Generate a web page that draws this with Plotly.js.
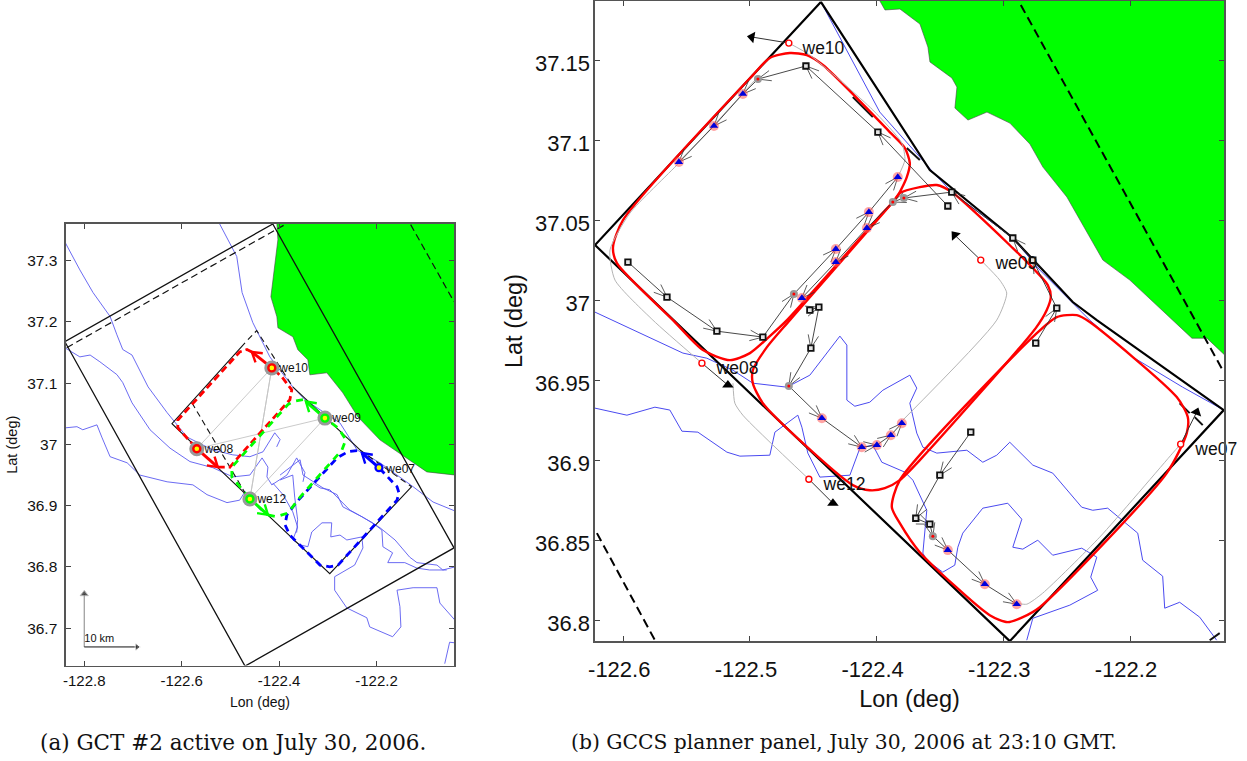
<!DOCTYPE html>
<html><head><meta charset="utf-8">
<script src="https://cdn.plot.ly/plotly-3.0.1.min.js"></script>
<style>html,body{margin:0;padding:0;background:#fff}</style></head>
<body><div id="chart" style="width:1247px;height:761px"></div>
<script>
// ===== Panel (a) values, lon / lat =====
const aLandLon=[-122.4046,-122.4025,-122.4169,-122.4046,-122.4025,-122.3717,-122.3615,-122.341,-122.3369,-122.302,-122.2692,-122.2384,-122.1932,-122.1255,-122.0968,-122.0414,-122.03,-122.03,-122.4046];
const aLandLat=[37.3605,37.3343,37.2412,37.2085,37.1905,37.1758,37.1546,37.1382,37.1137,37.117,37.0843,37.0451,37.0075,36.9716,36.9552,36.9503,36.9503,37.37,37.37];
const aCoast1Lon=[-122.522,-122.487,-122.476,-122.454,-122.419,-122.372,-122.347,-122.275,-122.24,-122.193,-122.125,-122.084,-122.041];
const aCoast1Lat=[37.36,37.307,37.248,37.199,37.143,37.094,37.073,37.035,36.991,36.97,36.931,36.906,36.892];
const aCoast2Lon=[-122.84,-122.809,-122.782,-122.747,-122.733,-122.721,-122.702,-122.669,-122.63,-122.589,-122.536,-122.495,-122.46,-122.433,-122.409,-122.398,-122.405];
const aCoast2Lat=[37.331,37.285,37.248,37.209,37.179,37.155,37.146,37.094,37.052,37.012,36.991,36.983,36.98,36.988,37.019,37.008,36.996];
const aCoast3Lon=[-122.84,-122.809,-122.788,-122.768,-122.733,-122.721,-122.702,-122.665,-122.624,-122.583,-122.536,-122.495,-122.46,-122.435,-122.423,-122.425,-122.415,-122.384,-122.364,-122.347,-122.351];
const aCoast3Lat=[37.158,37.143,37.146,37.135,37.114,37.101,37.068,37.024,36.994,36.972,36.962,36.947,36.95,36.978,36.963,36.947,36.934,36.95,36.978,36.954,36.939];
const aCoast4Lon=[-122.84,-122.815,-122.803,-122.774,-122.764,-122.747,-122.712,-122.686,-122.63,-122.577,-122.548,-122.507,-122.481,-122.47,-122.439,-122.425];
const aCoast4Lat=[37.027,37.029,37.024,37.032,37.012,36.98,36.97,36.95,36.939,36.934,36.918,36.905,36.909,36.923,36.893,36.888];
const aCoast5Lon=[-122.413,-122.392,-122.372,-122.362,-122.372,-122.357,-122.341,-122.333,-122.312,-122.292,-122.294,-122.275,-122.261,-122.23,-122.228,-122.245,-122.286,-122.286,-122.261,-122.22,-122.214,-122.167,-122.15,-122.152,-122.158,-122.125,-122.076,-122.07,-122.039];
const aCoast5Lat=[36.937,36.918,36.89,36.865,36.844,36.836,36.833,36.857,36.872,36.872,36.849,36.852,36.844,36.849,36.831,36.803,36.784,36.762,36.733,36.717,36.702,36.686,36.702,36.735,36.762,36.766,36.766,36.741,36.713];
const aCoast6Lon=[-122.398,-122.357,-122.351,-122.31,-122.281,-122.269,-122.23,-122.193,-122.162,-122.132,-122.117,-122.076,-122.064,-122.039];
const aCoast6Lat=[36.95,36.975,36.95,36.929,36.918,36.898,36.882,36.864,36.844,36.816,36.807,36.803,36.795,36.8];
const aCoast7Lon=[-122.398,-122.372,-122.368,-122.362,-122.364];
const aCoast7Lat=[36.942,36.95,36.914,36.877,36.856];
const aCoast8Lon=[-122.331,-122.316,-122.296,-122.279,-122.255,-122.208,-122.189,-122.187,-122.167,-122.177,-122.142,-122.117,-122.091,-122.056];
const aCoast8Lat=[36.937,36.929,36.926,36.913,36.893,36.872,36.86,36.833,36.823,36.807,36.807,36.798,36.795,36.795];
const aCoast9Lon=[-122.06,-122.05,-122.039];
const aCoast9Lat=[36.642,36.677,36.676];
const aBoxLon=[-122.84,-122.413,-122.041,-122.47,-122.84];
const aBoxLat=[37.168,37.36,36.831,36.638,37.168];
const aOuterDashLon=[-122.836,-122.388,null,-122.13,-122.041];
const aOuterDashLat=[37.158,37.359,null,37.359,37.233];
const aInnerLon=[-122.47,-122.62,-122.526,-122.296,-122.128,null,-122.372,-122.234];
const aInnerLat=[37.166,37.034,36.962,36.789,36.931,null,37.094,36.991];
const aInnerDashLon=[-122.464,-122.446,-122.372,null,-122.579,-122.47,null,-122.234,-122.128];
const aInnerDashLat=[37.171,37.186,37.094,null,37.068,36.921,null,36.991,36.931];
const aVehNames=["we10","we09","we08","we12","we07"];
const aLabelLon=[-122.3995,-122.2907,-122.5534,-122.4446,-122.1799];
const aLabelLat=[37.123,37.0415,36.991,36.909,36.958];
const aLinksLon=[-122.415,-122.569,-122.306,-122.46,-122.415];
const aLinksLat=[37.125,36.993,37.043,36.911,37.125];
const aRedDashLon=[-122.526,-122.501,-122.476,-122.378,-122.374,-122.394,-122.415,null,-122.456,-122.466,-122.481,-122.608,-122.608,-122.569];
const aRedDashLat=[36.963,36.963,36.986,37.073,37.089,37.11,37.125,null,37.151,37.155,37.151,37.04,37.027,36.993];
const aRedArrowLon=[-122.415,-122.456,null,-122.569,-122.526];
const aRedArrowLat=[37.125,37.151,null,36.993,36.963];
const aGreenDashLon=[-122.423,-122.405,-122.382,-122.357,-122.271,-122.263,-122.279,-122.306,null,-122.351,-122.372,-122.382,-122.497,-122.497,-122.46];
const aGreenDashLat=[36.885,36.882,36.888,36.914,36.991,37.008,37.027,37.043,null,37.073,37.07,37.065,36.963,36.947,36.911];
const aGreenArrowLon=[-122.46,-122.423,null,-122.306,-122.345];
const aGreenArrowLat=[36.911,36.885,null,37.043,37.07];
const aBlueDashLon=[-122.24,-122.259,-122.281,-122.364,-122.384,-122.388,-122.378,-122.316,-122.296,-122.279,-122.158,-122.154,-122.158,-122.195];
const aBlueDashLat=[36.99,36.988,36.978,36.906,36.885,36.869,36.852,36.803,36.8,36.803,36.909,36.921,36.931,36.962];
const aBlueArrowLon=[-122.195,-122.23];
const aBlueArrowLat=[36.962,36.986];
const aScaleUpLon=[-122.8,-122.8], aScaleUpLat=[36.6693,36.7559];
const aScaleRightLon=[-122.8,-122.6919], aScaleRightLat=[36.6693,36.6693];
const aScaleText=["10 km"], aScaleTextLon=[-122.8], aScaleTextLat=[36.682];
const aXTicks=[-122.8,-122.6,-122.4,-122.2], aXLabels=["-122.8","-122.6","-122.4","-122.2"];
const aYTicks=[36.7,36.8,36.9,37,37.1,37.2,37.3], aYLabels=["36.7","36.8","36.9","37","37.1","37.2","37.3"];

// ===== Panel (b) values, lon / lat =====
const bLandLon=[-122.3974,-122.3934,-122.3816,-122.3658,-122.3595,-122.3579,-122.3406,-122.3366,-122.3382,-122.3279,-122.3129,-122.2948,-122.279,-122.2687,-122.2498,-122.2395,-122.2214,-122.2001,-122.1661,-122.1511,-122.1393,-122.1259,-122.12,-122.12,-122.3974];
const bLandLat=[37.1869,37.1813,37.1819,37.1725,37.1581,37.1488,37.1388,37.1331,37.12,37.1125,37.1175,37.1106,37.0975,37.0831,37.0644,37.05,37.025,37.0125,36.9875,36.9762,36.9762,36.9662,36.9662,37.19,37.19];
const bBoxLon=[-122.444,-122.358,-122.2925,-122.2689,-122.2452,-122.2262,-122.126,-122.2949,-122.6223,-122.444];
const bBoxLat=[37.1863,37.0813,37.0388,37.0188,36.9988,36.9875,36.9313,36.7869,37.0344,37.1863];
const bDashLon=[-122.2862,-122.1489,-122.1268,null,-122.6208,-122.575];
const bDashLat=[37.1844,36.9881,36.9562,null,36.8544,36.7875];
const bStubLon=[-122.3762,-122.3659,null,-122.1608,-122.1529,null,-122.1489,-122.1426,null,-122.1371,-122.1292,null,-122.4188,-122.403];
const bStubLat=[37.095,37.0875,null,36.9356,36.9294,null,36.9269,36.9219,null,36.7875,36.7919,null,37.1269,37.1144];
const bCoast1Lon=[-122.444,-122.4235,-122.4077,-122.3975,-122.3659,-122.3556,-122.3407,-122.2925,-122.2712,-122.242,-122.2318,-122.2136,-122.1978,-122.1584,-122.126];
const bCoast1Lat=[37.1863,37.1563,37.1331,37.1175,37.0894,37.08,37.0675,37.0388,37.0188,36.9956,36.9875,36.975,36.9644,36.9456,36.9313];
const bCoast2Lon=[-122.6223,-122.6089,-122.5805,-122.5529,-122.534,-122.5134,-122.4977,-122.4708,-122.4527,-122.429,-122.4235,-122.4235,-122.4172,-122.4054,-122.3951,-122.3738,-122.3683,-122.3738,-122.3683,-122.3635,-122.3525,-122.3288,-122.3162,-122.3052,-122.2949,-122.2767,-122.261,-122.2381,-122.2294,-122.2176,-122.1939,-122.19,-122.1742,-122.1726,-122.1608,-122.145,-122.1316];
const bCoast2Lat=[36.9925,36.9875,36.9769,36.9669,36.9637,36.9562,36.9481,36.9456,36.9531,36.9775,36.9719,36.9375,36.9337,36.9362,36.9437,36.9531,36.945,36.9356,36.9169,36.9081,36.9044,36.9062,36.8987,36.9031,36.9112,36.8969,36.8919,36.8706,36.8687,36.87,36.8544,36.8375,36.8275,36.8075,36.8112,36.8019,36.7875];
const bCoast3Lon=[-122.6223,-122.5971,-122.575,-122.5632,-122.5537,-122.5411,-122.5182,-122.5079,-122.4843,-122.4803,-122.4622,-122.459,-122.4543,-122.4448,-122.4211,-122.4132,-122.403,-122.3959,-122.3777,-122.3714,-122.3604,-122.3635,-122.3604,-122.3478,-122.3383,-122.3359,-122.332,-122.3162,-122.2965,-122.2854,-122.2925,-122.2846,-122.2728,-122.261,-122.2381,-122.2262,-122.231,-122.2255,-122.2475,-122.2767,-122.2815];
const bCoast3Lat=[36.9325,36.9281,36.9331,36.9313,36.9181,36.9175,36.905,36.9025,36.9031,36.9175,36.9281,36.9206,36.9044,36.8894,36.8906,36.9075,36.9094,36.8987,36.8925,36.8875,36.8687,36.8419,36.8375,36.83,36.8344,36.8456,36.8544,36.87,36.8731,36.8631,36.8456,36.8444,36.85,36.8406,36.845,36.8394,36.8269,36.8187,36.8094,36.8012,36.7875];
const bRed1Lon=[-122.4685,-122.4843,-122.4977,-122.6002,-122.6081,-122.605,-122.5608,-122.5371,-122.5158,-122.5,-122.4843,-122.4708,-122.3975,-122.384,-122.3762,-122.3738,-122.3777,-122.3896,-122.4424,-122.4551,-122.4685];
const bRed1Lat=[37.1544,37.1513,37.1406,37.05,37.0331,37.0231,36.9875,36.9688,36.9625,36.9669,36.9775,36.9875,37.0525,37.0644,37.0769,37.0856,37.095,37.105,37.1469,37.1531,37.1544];
const bRed2Lon=[-122.3872,-122.3817,-122.3659,-122.3525,-122.3407,-122.2925,-122.2752,-122.2649,-122.2625,-122.2657,-122.2744,-122.3659,-122.3817,-122.3935,-122.4054,-122.4188,-122.4582,-122.4898,-122.4977,-122.4977,-122.4866,-122.4685,-122.3872];
const bRed2Lat=[37.0613,37.0669,37.0706,37.0719,37.0675,37.0325,37.0188,37.0094,37.0019,36.9938,36.9825,36.9,36.8875,36.8825,36.8812,36.8844,36.9106,36.9356,36.9481,36.9562,36.9706,36.9875,37.0613];
const bRed3Lon=[-122.2578,-122.242,-122.2318,-122.1631,-122.1544,-122.1552,-122.171,-122.2712,-122.2846,-122.2965,-122.3107,-122.3659,-122.3817,-122.388,-122.3817,-122.2752,-122.2578];
const bRed3Lat=[36.9894,36.9906,36.9863,36.9394,36.9269,36.9169,36.8919,36.8081,36.8019,36.7988,36.8031,36.8425,36.8606,36.8706,36.8875,36.9781,36.9894];
const bPath1Lon=[-122.4693,-122.4527,-122.403,-122.3801,-122.3777,-122.3833];
const bPath1Lat=[37.1606,37.1531,37.1188,37.0981,37.0875,37.0769];
const bPath2Lon=[-122.4945,-122.5553,-122.5947,-122.6105,-122.6065,-122.5766,-122.5379];
const bPath2Lat=[37.1388,37.0863,37.0544,37.0313,37.0125,36.9875,36.9606];
const bPath3Lon=[-122.5134,-122.5119,-122.5056,-122.4535];
const bPath3Lat=[36.9481,36.9356,36.9281,36.8881];
const bPath4Lon=[-122.3178,-122.3028,-122.2973,-122.3052,-122.3793];
const bPath4Lat=[37.025,37.0125,37.0044,36.9875,36.925];
const bPath5Lon=[-122.16,-122.1663,-122.2239,-122.2689,-122.2815,-122.2894];
const bPath5Lat=[36.91,36.9044,36.8519,36.8169,36.81,36.8106];
const bSeq1Lon=[-122.3438,-122.399,-122.4558,-122.4937,-122.5056,-122.5284,-122.5561];
const bSeq1Lat=[37.0588,37.105,37.1463,37.1381,37.1288,37.1088,37.0863];
const bSeq2Lon=[-122.5963,-122.5655,-122.5261,-122.4898,-122.4653,-122.4322,-122.4061,-122.3833];
const bSeq2Lat=[37.0238,37.0019,36.9806,36.9769,37.0038,37.0319,37.055,37.0769];
const bSeq3Lon=[-122.2744,-122.2578,-122.2767,-122.2925,-122.3407,-122.3785,-122.3872,-122.4077,-122.4322,-122.459];
const bSeq3Lat=[36.9731,36.995,37.025,37.0388,37.0675,37.0638,37.0613,37.045,37.0238,37.0013];
const bSeq4Lon=[-122.4527,-122.4456,-122.4519,-122.4693,-122.4432,-122.4117,-122.3998,-122.3888,-122.3801];
const bSeq4Lat=[36.9938,36.9956,36.97,36.9463,36.9262,36.9081,36.9094,36.9156,36.9231];
const bSeq5Lon=[-122.3257,-122.3501,-122.3691,-122.358,-122.3556,-122.3438,-122.3146,-122.2894];
const bSeq5Lat=[36.9175,36.8906,36.8637,36.86,36.8525,36.8438,36.8225,36.81];
const bSquareLon=[-122.5963,-122.5655,-122.5261,-122.4898,-122.4558,-122.399,-122.4527,-122.4456,-122.4519,-122.3407,-122.3438,-122.2925,-122.2767,-122.2578,-122.2744,-122.3257,-122.3501,-122.3691,-122.358];
const bSquareLat=[37.0238,37.0019,36.9806,36.9769,37.1463,37.105,36.9938,36.9956,36.97,37.0675,37.0588,37.0388,37.025,36.995,36.9731,36.9175,36.8906,36.8637,36.86];
const bDoneLon=[-122.5056,-122.5284,-122.5561,-122.3833,-122.4061,-122.4077,-122.4322,-122.4322,-122.459,-122.4432,-122.4117,-122.3998,-122.3888,-122.3801,-122.3438,-122.3146,-122.2894];
const bDoneLat=[37.1288,37.1088,37.0863,37.0769,37.055,37.045,37.0319,37.0238,37.0013,36.9262,36.9081,36.9094,36.9156,36.9231,36.8438,36.8225,36.81];
const bNextLon=[-122.4937,-122.4653,-122.3872,-122.3785,-122.4693,-122.3556];
const bNextLat=[37.1381,37.0038,37.0613,37.0638,36.9463,36.8525];
const bVehLon=[-122.4693,-122.5379,-122.4535,-122.3178,-122.16];
const bVehLat=[37.1606,36.9606,36.8881,37.025,36.91];
const bHeadLon=[-122.4985,-122.5174,-122.4345,-122.3383,-122.1474];
const bHeadLat=[37.1644,36.9469,36.8731,37.0406,36.93];
const bHeadAngle=[-80,0,0,-40,20];
const bVehNames=["we10","we08","we12","we09","we07"];
const bLabelLon=[-122.4585,-122.5263,-122.4419,-122.3062,-122.1484];
const bLabelLat=[37.1566,36.9566,36.8841,37.0223,36.906];
const bXTicks=[-122.6,-122.5,-122.4,-122.3,-122.2], bXLabels=["-122.6","-122.5","-122.4","-122.3","-122.2"];
const bYTicks=[36.8,36.85,36.9,36.95,37,37.05,37.1,37.15], bYLabels=["36.8","36.85","36.9","36.95","37","37.05","37.1","37.15"];

const captionA="(a) GCT #2 active on July 30, 2006.";
const captionB="(b) GCCS planner panel, July 30, 2006 at 23:10 GMT.";

// ===== Styles =====
const RED="#ff0000",GREEN="#00ff00",BLUE="#0000ff",COAST="#5a5af0",COASTB="#4a4af0",W=1247,H=761;
const A={xaxis:"x",yaxis:"y"},B={xaxis:"x2",yaxis:"y2"};
const dom={a:{x:[66,454],y:[224,665.5],rx:[-122.8375,-122.041],ry:[36.639,37.36]},b:{x:[595,1224],y:[1,641],rx:[-122.6223,-122.1258],ry:[36.787,37.1869]}};
const scale=d=>({sx:(d.x[1]-d.x[0])/(d.rx[1]-d.rx[0]),sy:(d.y[1]-d.y[0])/(d.ry[1]-d.ry[0])});
const tr=[];
function line(ax,x,y,color,width,dash,extra){tr.push(Object.assign({type:"scatter",mode:"lines",x,y,hoverinfo:"skip",
  line:{color,width,dash:dash||"solid"}},ax,extra||{}));}
function pts(ax,x,y,marker,extra){tr.push(Object.assign({type:"scatter",mode:"markers",x,y,hoverinfo:"skip",marker},ax,extra||{}));}
function labels(ax,x,y,text,size){tr.push(Object.assign({type:"scatter",mode:"text",x,y,text,textposition:"middle right",cliponaxis:false,hoverinfo:"skip",
  textfont:{family:"Liberation Sans, Arial, sans-serif",size,color:"#111"}},ax));}
function land(ax,x,y){line(ax,x,y,"#444",0.6,null,{fill:"toself",fillcolor:GREEN});}
// a polyline with an open V head at every point after the first; heads are derived from the path itself
function arrowed(ax,d,x,y,color,width,barb,deg,lw){
  line(ax,x,y,color,width);
  const {sx,sy}=scale(d),hx=[],hy=[],c=Math.cos(deg*Math.PI/180),s=Math.sin(deg*Math.PI/180);
  for(let i=1;i<x.length;i++){
    if(x[i]===null||x[i-1]===null)continue;
    const dx=(x[i-1]-x[i])*sx,dy=(y[i-1]-y[i])*sy,n=Math.hypot(dx,dy)||1,ux=dx/n,uy=dy/n;
    hx.push(x[i]+(ux*c-uy*s)*barb/sx,x[i],x[i]+(ux*c+uy*s)*barb/sx,null);
    hy.push(y[i]+(ux*s+uy*c)*barb/sy,y[i],y[i]+(-ux*s+uy*c)*barb/sy,null);
  }
  line(ax,hx,hy,color,lw);
}

// panel a
land(A,aLandLon,aLandLat);
[[aCoast1Lon,aCoast1Lat],[aCoast2Lon,aCoast2Lat],[aCoast3Lon,aCoast3Lat],[aCoast4Lon,aCoast4Lat],[aCoast5Lon,aCoast5Lat],[aCoast6Lon,aCoast6Lat],[aCoast7Lon,aCoast7Lat],[aCoast8Lon,aCoast8Lat],[aCoast9Lon,aCoast9Lat]]
 .forEach(c=>line(A,c[0],c[1],COAST,0.9));
line(A,aLinksLon,aLinksLat,"#c4c4c4",0.9);
line(A,[aLinksLon[0],aLinksLon[3]],[aLinksLat[0],aLinksLat[3]],"#c4c4c4",0.9);
line(A,aBoxLon,aBoxLat,"#111",1.3);
line(A,aOuterDashLon,aOuterDashLat,"#111",1.2,"7px,4px");
line(A,aInnerLon,aInnerLat,"#111",1.1);
line(A,aInnerDashLon,aInnerDashLat,"#111",1.1,"6px,4px");
line(A,aBlueDashLon,aBlueDashLat,BLUE,2.8,"7px,5px");
line(A,aRedDashLon,aRedDashLat,RED,2.8,"7px,4px");
line(A,aGreenDashLon,aGreenDashLat,GREEN,2.8,"7px,6px");
arrowed(A,dom.a,aRedArrowLon,aRedArrowLat,RED,3,11,32,2.4);
arrowed(A,dom.a,aGreenArrowLon,aGreenArrowLat,GREEN,3,11,32,2.4);
arrowed(A,dom.a,aBlueArrowLon,aBlueArrowLat,BLUE,3,11,32,2.4);
const aHaloLon=[aLinksLon[0],aLinksLon[2],aLinksLon[1],aLinksLon[3]],aHaloLat=[aLinksLat[0],aLinksLat[2],aLinksLat[1],aLinksLat[3]];
pts(A,aHaloLon,aHaloLat,{symbol:"circle",size:15,color:"#999"});
pts(A,aHaloLon,aHaloLat,{symbol:"circle",size:7,color:"#ffff00",line:{color:[RED,GREEN,RED,GREEN],width:2.4}});
pts(A,[-122.195],[36.962],{symbol:"circle",size:7,color:"#ffff00",line:{color:BLUE,width:2.2}});
labels(A,aLabelLon,aLabelLat,aVehNames,12);
tr.push(Object.assign({type:"scatter",mode:"lines+markers",x:aScaleUpLon,y:aScaleUpLat,hoverinfo:"skip",line:{color:"#999",width:1.2},
  marker:{symbol:["circle","triangle-up"],size:[0,7],color:"#111"}},A));
tr.push(Object.assign({type:"scatter",mode:"lines+markers",x:aScaleRightLon,y:aScaleRightLat,hoverinfo:"skip",line:{color:"#111",width:1},
  marker:{symbol:["circle","triangle-right"],size:[0,7],color:"#111"}},A));
labels(A,aScaleTextLon,aScaleTextLat,aScaleText,11);

// panel b
land(B,bLandLon,bLandLat);
[[bCoast1Lon,bCoast1Lat],[bCoast2Lon,bCoast2Lat],[bCoast3Lon,bCoast3Lat]].forEach(c=>line(B,c[0],c[1],COASTB,1));
line(B,bBoxLon,bBoxLat,"#000",2.2);
line(B,bDashLon,bDashLat,"#000",2,"9px,5px");
line(B,bStubLon,bStubLat,"#111",2);
const SPL={line:{shape:"spline",smoothing:0.7,color:RED,width:2.4}};
[[bRed1Lon,bRed1Lat],[bRed2Lon,bRed2Lat],[bRed3Lon,bRed3Lat]].forEach(c=>line(B,c[0],c[1],RED,2.4,null,SPL));
const SPG={line:{shape:"spline",smoothing:0.6,color:"#b4b4b4",width:1}};
[[bPath1Lon,bPath1Lat],[bPath2Lon,bPath2Lat],[bPath3Lon,bPath3Lat],[bPath4Lon,bPath4Lat],[bPath5Lon,bPath5Lat]].forEach(c=>line(B,c[0],c[1],"#b4b4b4",1,null,SPG));
[[bSeq1Lon,bSeq1Lat],[bSeq2Lon,bSeq2Lat],[bSeq3Lon,bSeq3Lat],[bSeq4Lon,bSeq4Lat],[bSeq5Lon,bSeq5Lat]].forEach(c=>arrowed(B,dom.b,c[0],c[1],"#333",0.9,14,22,0.8));
pts(B,bNextLon,bNextLat,{symbol:"circle",size:8,color:"#999"});
pts(B,bNextLon,bNextLat,{symbol:"circle",size:3,color:RED});
pts(B,bDoneLon,bDoneLat,{symbol:"circle",size:10,color:"rgba(255,90,90,0.55)"});
pts(B,bDoneLon,bDoneLat,{symbol:"triangle-up",size:7.5,color:"#0000dd"});
pts(B,bSquareLon,bSquareLat,{symbol:"square",size:5.5,color:"#e4e4e4",line:{color:"#111",width:1.8}});
bVehLon.forEach((v,i)=>line(B,[v,bHeadLon[i]],[bVehLat[i],bHeadLat[i]],"#333",1));
pts(B,bHeadLon,bHeadLat,{symbol:"triangle-up",size:10,color:"#000",angle:bHeadAngle});
pts(B,bVehLon,bVehLat,{symbol:"circle",size:6,color:"#fff",line:{color:RED,width:1.4}});
labels(B,bLabelLon,bLabelLat,bVehNames,17.5);

function axis(extra,size){return Object.assign({showgrid:false,zeroline:false,showline:true,linecolor:"#555",linewidth:1.6,mirror:"ticks",
  ticks:"inside",ticklen:5,tickwidth:1,tickcolor:"#444",tickmode:"array",
  tickfont:{family:"Liberation Sans, Arial, sans-serif",size,color:"#111"}},extra);}
const tf=s=>({family:"Liberation Sans, Arial, sans-serif",size:s,color:"#111"});
const layout={width:W,height:H,autosize:false,showlegend:false,paper_bgcolor:"#fff",plot_bgcolor:"#fff",margin:{l:0,r:0,t:0,b:0},
 xaxis:axis({domain:[66/W,454/W],range:dom.a.rx,tickvals:aXTicks,ticktext:aXLabels,anchor:"y",ticklabelstandoff:1,title:{text:"Lon (deg)",font:tf(14),standoff:9}},15),
 yaxis:axis({domain:[(H-665.5)/H,(H-224)/H],range:dom.a.ry,tickvals:aYTicks,ticktext:aYLabels,anchor:"x",ticklabelstandoff:4,title:{text:"Lat (deg)",font:tf(14.5),standoff:6}},15.5),
 xaxis2:axis({domain:[595/W,1224/W],range:dom.b.rx,tickvals:bXTicks,ticktext:bXLabels,anchor:"y2",ticklabelstandoff:8,ticklabelshift:-4,title:{text:"Lon (deg)",font:tf(23.5),standoff:9}},22),
 yaxis2:axis({domain:[(H-641)/H,(H-1)/H],range:dom.b.ry,tickvals:bYTicks,ticktext:bYLabels,anchor:"x2",ticklabelstandoff:-1,ticklabelshift:3,title:{text:"Lat (deg)",font:tf(23.5),standoff:6}},22),
 annotations:[
  {xref:"paper",yref:"paper",x:233/W,y:(H-742)/H,text:captionA,showarrow:false,xanchor:"center",yanchor:"middle",font:{family:"DejaVu Serif, serif",size:21.5,color:"#111"}},
  {xref:"paper",yref:"paper",x:844/W,y:(H-742)/H,text:captionB,showarrow:false,xanchor:"center",yanchor:"middle",font:{family:"DejaVu Serif, serif",size:20.3,color:"#111"}}
 ]};
Plotly.newPlot("chart",tr,layout,{displayModeBar:false,staticPlot:true});
</script></body></html>
